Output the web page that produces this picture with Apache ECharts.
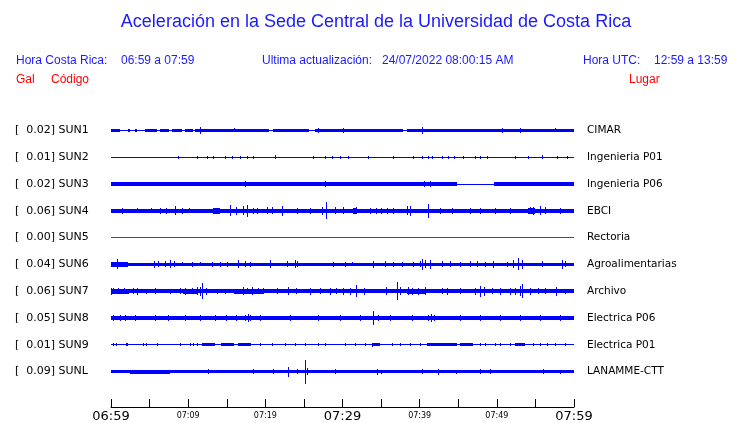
<!DOCTYPE html>
<html><head><meta charset="utf-8">
<script src="https://cdn.jsdelivr.net/npm/echarts@6/dist/echarts.min.js"></script>
<style>html,body{margin:0;padding:0;background:#fff}#c{width:740px;height:423px}</style>
</head><body><div id="c"></div>
<script>
// ---- stations ----
const codes = ['SUN1','SUN2','SUN3','SUN4','SUN5','SUN6','SUN7','SUN8','SUN9','SUNL'];
const places = ['CIMAR','Ingenieria P01','Ingenieria P06','EBCI','Rectoria','Agroalimentarias','Archivo','Electrica P06','Electrica P01','LANAMME-CTT'];
const peakGal = [0.02,0.01,0.02,0.06,0.00,0.04,0.06,0.05,0.01,0.09];
const traceColors = ['#0000ff','#0000ff','#0000ff','#0000ff','#ff0000','#0000ff','#0000ff','#0000ff','#0000ff','#0000ff'];

// ---- time axis (minutes after 06:59) ----
const labelMinutes = [0,10,20,30,40,50,60];
const labelTexts = ['06:59','07:09','07:19','07:29','07:39','07:49','07:59'];
const bigLabelMinutes = [0,30,60];

// ---- trace envelopes: segments [startMin, endMin, halfAmp], spikes [min, halfAmp] ----
const sun1Segments = [[0,1.2,1.5],[2.2,2.5,1.5],[3.1,3.4,1.5],[4.4,6,1.5],[6.3,7.5,1.5],[7.9,9.2,1.5],[9.6,10.6,1.5],[10.9,20.5,1.5],[21.0,25.6,1.5],[26.4,37.8,1.5],[38.4,60,1.5]];
const sun1Spikes = [[11.5,3.7],[16.0,2],[26.8,2.5],[30.0,2.2],[40.3,3.5],[50.7,2.5],[53.0,2.2],[57.5,2]];
const sun2Segments = [];
const sun2Spikes = [[8.7,1.5],[11.1,1.5],[12.4,1.5],[13.2,1.5],[14.8,1.5],[15.7,1.5],[16.7,1.5],[17.6,1.5],[18.4,1.5],[21.3,1.8],[26.2,1.5],[27.7,1.5],[28.6,1.5],[29.7,1.5],[30.7,1.5],[33.3,1.5],[36.5,1.5],[39.1,1.5],[40.3,1.5],[41.1,1.5],[41.6,1.5],[42.9,1.5],[43.7,1.5],[44.4,1.5],[45.6,1.5],[47.2,1.5],[47.8,1.5],[48.7,1.5],[52.4,1.5],[54.0,1.5],[55.9,2],[57.8,1.5],[59.1,1.5]];
const sun3Segments = [[0,44.9,1.7],[49.6,60,1.7]];
const sun3Spikes = [[1.6,2.2],[10.5,2],[14.1,2],[15.5,2.5],[16.6,2.5],[17.4,3],[18.3,2.5],[26.7,2.5],[27.7,3],[30.2,2.5],[31.6,2],[35.8,2.5],[37.1,2],[38.0,2],[40.0,2.5],[40.6,3],[41.3,3.5],[42.6,2.5],[43.9,2.5],[44.7,2.5],[51.6,2.5],[56.6,2]];
const sun4Segments = [[0,60,2.2],[13.2,14.1,3.3],[31.4,31.9,3],[54.0,55.0,3]];
const sun4Spikes = [[1.4,3],[3.4,2.5],[5.2,2.5],[6.3,3],[7.1,3],[8.3,4.5],[9.2,3],[10.1,2.5],[15.4,5.5],[16.2,4],[17.1,4.5],[17.6,6],[18.4,3],[18.9,3],[20.2,3.5],[20.9,3.5],[22.2,5],[24.1,3],[25.8,3],[27.3,4],[27.9,8.5],[29.0,3.5],[30.1,3.5],[31.7,3.5],[33.6,3],[34.3,3],[35.0,3],[35.8,3],[36.6,3],[38.4,4.5],[38.7,5],[41.1,7],[42.6,3],[44.2,3],[46.5,3],[47.8,3],[49.8,3],[51.7,3],[54.3,3.5],[54.7,4],[55.6,4.5],[56.2,3.5],[58.2,3]];
const sun5Segments = [];
const sun5Spikes = [];
const sun6Segments = [[0,2.2,2.4],[2.2,5.5,1.2],[5.5,60,1.7]];
const sun6Spikes = [[0.3,2.5],[0.8,5],[2.9,1.8],[4.4,1.8],[5.6,3.5],[6.1,3],[7.0,3],[7.6,4],[8.2,3],[9.2,2],[10.5,2.5],[11.5,2],[13.1,2.5],[14.1,2.5],[15.0,2.5],[16.5,4],[17.4,3],[18.0,2.5],[20.6,4],[22.8,3],[23.8,4],[24.1,3],[28.8,2.5],[30.3,2.5],[31.2,2],[34.0,3.5],[35.5,3],[36.5,2.5],[37.7,2.5],[39.1,2.5],[40.0,3],[40.3,5.5],[40.7,4],[41.3,4.5],[42.9,3],[43.9,3],[45.2,2.5],[46.5,3],[47.4,3],[48.5,2.5],[49.5,3.5],[51.3,2.5],[52.1,4],[52.7,6],[53.3,4.5],[55.9,3],[58.4,4.5],[58.8,3]];
const sun7Segments = [[0,60,2],[0,2.3,2.4],[9.3,11.3,2.6],[16.0,19.8,2.4],[38.3,40.8,2.6]];
const sun7Spikes = [[0,3.5],[0.3,3],[0.9,3],[1.7,3],[2.9,3],[3.4,3.5],[4.5,2.5],[5.7,3],[7.6,2.5],[8.9,3],[9.6,3.5],[10.5,3],[11.1,4],[11.5,4.5],[11.8,8],[12.3,3.5],[13.7,2.5],[14.8,2.5],[16.3,2.5],[17.1,4],[17.6,3],[18.3,4],[19.0,3],[19.7,3],[21.5,3],[22.9,4],[24.0,3],[25.8,3.5],[27.1,3],[28.4,3.5],[29.2,3],[30.1,3.5],[31.0,3.5],[31.7,6],[32.8,3.5],[35.6,4],[37.1,9],[37.4,4],[38.5,4],[39.0,3.5],[39.8,3.5],[40.7,4],[42.9,3],[43.5,3.5],[45.2,3],[47.2,3.5],[47.8,5.5],[48.3,4.5],[49.4,3],[50.4,3.5],[51.7,3.5],[52.4,3.5],[53.0,5],[53.3,7],[54.3,3.5],[55.3,3],[56.2,3],[57.7,4.5],[58.8,2.5]];
const sun8Segments = [[0,60,2.5]];
const sun8Spikes = [[0.3,3],[1.2,3],[1.8,3],[3.1,3],[5.7,3],[7.4,3],[9.6,3],[11.5,3],[13.5,3.5],[14.9,3.5],[16.2,3.5],[17.4,3.5],[17.8,4],[18.0,3.5],[19.3,3],[23.2,3],[26.8,3],[29.7,3],[32.3,3],[34.0,6.7],[34.6,3],[36.2,3],[39.0,3],[41.1,3],[41.5,4],[41.9,3],[45.2,3],[47.8,3],[50.4,3],[53.0,3],[55.6,3.5],[58.2,3]];
const sun9Segments = [[11.8,13.5,1.5],[14.2,16.0,1.5],[16.5,18.2,1.5],[33.8,34.9,1.5],[40.9,44.9,1.5],[45.2,46.9,1.5],[52.4,53.6,1.5]];
const sun9Spikes = [[0.2,1.5],[0.6,1.5],[2.0,1.5],[2.1,1.5],[4.2,1.5],[4.6,1.5],[6.0,1.5],[9.0,1.5],[10.2,1.5],[10.6,1.5],[11.1,1.5],[19.3,1.5],[20.9,1.5],[22.5,1.5],[23.8,1.5],[25.1,1.5],[26.8,1.5],[27.7,1.5],[30.3,1.5],[31.6,1.5],[32.9,1.5],[33.8,2],[36.4,1.5],[37.4,1.5],[38.7,1.5],[40.0,1.5],[47.8,1.5],[48.5,1.5],[49.8,1.5],[50.4,1.5],[51.7,1.5],[54.7,1.5],[55.6,1.5],[56.5,1.5],[57.5,1.5],[58.8,1.5]];
const sunLSegments = [[0,60,1.7],[2.5,7.6,2]];
const sunLSpikes = [[12.6,2.5],[18.4,2.5],[21.0,2.5],[22.9,5],[24.1,2.5],[25.1,12],[25.4,3.5],[29.0,2.5],[34.5,3],[35.0,2],[40.3,2.5],[42.4,3],[44.7,2],[47.8,2.5],[49.1,2.5],[56.0,2.5],[58.2,2]];

const allSegments = [sun1Segments,sun2Segments,sun3Segments,sun4Segments,sun5Segments,sun6Segments,sun7Segments,sun8Segments,sun9Segments,sunLSegments];
const allSpikes = [sun1Spikes,sun2Spikes,sun3Spikes,sun4Spikes,sun5Spikes,sun6Spikes,sun7Spikes,sun8Spikes,sun9Spikes,sunLSpikes];

function renderTrace(params, api) {
  const row = api.value(2);
  const p0 = api.coord([api.value(0), row]);
  const p1 = api.coord([api.value(1), row]);
  const scale = api.size([0, 1])[1] / 27;
  const a = api.value(3) * scale;
  const top = Math.round(p0[1] - a);
  const bot = Math.max(Math.round(p0[1] + a), top + 1);
  const x0 = Math.round(p0[0]);
  const x1 = Math.max(Math.round(p1[0]), x0 + 1);
  return {type: 'rect', shape: {x: x0, y: top, width: x1 - x0, height: bot - top},
    style: {fill: api.visual('color')}};
}

// one custom series per station: data [t0, t1, row, halfAmp]
const traceSeries = codes.map((c, i) => {
  const data = [[0, 60, i, 0.5]];
  allSegments[i].forEach(s => data.push([s[0], s[1], i, s[2]]));
  allSpikes[i].forEach(s => data.push([s[0], s[0], i, s[1]]));
  return {
    type: 'custom', name: c, xAxisIndex: 0, yAxisIndex: 0,
    encode: {x: [0, 1], y: 2}, clip: false,
    itemStyle: {color: traceColors[i]},
    renderItem: renderTrace, data: data
  };
});

const chart = echarts.init(document.getElementById('c'), null, {renderer: 'canvas'});
const blue = '#1a1aff', red = '#ff0000';
const font12 = '"Liberation Sans", Arial, sans-serif';
function txt(x, y, text, color, size, align) {
  return {type: 'text', x: x, y: y, style: {text: text, fill: color, font: size + 'px ' + font12, textAlign: align || 'left', textVerticalAlign: 'middle'}};
}
chart.setOption({
  animation: false,
  backgroundColor: '#fff',
  grid: {left: 111, right: 166, top: 117, bottom: 36},
  xAxis: {
    type: 'value', min: 0, max: 60, interval: 5, offset: 22,
    axisLine: {show: true, lineStyle: {color: '#000', width: 1}},
    axisTick: {show: true, inside: true, length: 8, lineStyle: {color: '#000'}},
    splitLine: {show: false},
    axisLabel: {
      margin: 3, color: '#000', fontFamily: 'DejaVu Sans',
      formatter: v => {
        const k = labelMinutes.indexOf(v);
        if (k < 0) return '';
        return bigLabelMinutes.indexOf(v) >= 0 ? '{b|' + labelTexts[k] + '}' : '{s|' + labelTexts[k] + '}';
      },
      rich: {b: {fontSize: 13, fontFamily: 'DejaVu Sans', color: '#000'}, s: {fontSize: 8, fontFamily: 'DejaVu Sans', color: '#000', padding: [2,0,0,0]}}
    }
  },
  yAxis: [{
    type: 'category', data: codes, inverse: true,
    axisLine: {show: false}, axisTick: {show: false}, splitLine: {show: false},
    axisLabel: {margin: 96, align: 'left', color: '#000', fontFamily: 'DejaVu Sans', fontSize: 11,
      formatter: (v, i) => '[  ' + peakGal[i].toFixed(2) + '] ' + v}
  }, {
    type: 'category', data: places, inverse: true, position: 'right',
    axisLine: {show: false}, axisTick: {show: false}, splitLine: {show: false},
    axisLabel: {margin: 13, align: 'left', color: '#000', fontFamily: 'DejaVu Sans', fontSize: 10.5}
  }],
  series: traceSeries,
  graphic: [
    txt(376, 22, 'Aceleración en la Sede Central de la Universidad de Costa Rica', blue, 18, 'center'),
    txt(16, 61, 'Hora Costa Rica:', blue, 12),
    txt(121, 61, '06:59 a 07:59', blue, 12),
    txt(262, 61, 'Ultima actualización:', blue, 12),
    txt(382, 61, '24/07/2022 08:00:15 AM', blue, 12),
    txt(583, 61, 'Hora UTC:', blue, 12),
    txt(654, 61, '12:59 a 13:59', blue, 12),
    txt(16, 80, 'Gal', red, 12),
    txt(51, 80, 'Código', red, 12),
    txt(629, 80, 'Lugar', red, 12)
  ]
});
</script></body></html>
